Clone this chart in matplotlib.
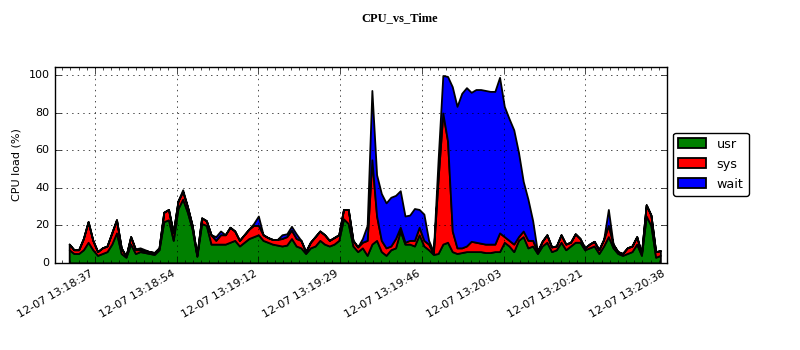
import matplotlib
matplotlib.use("Agg")
import matplotlib.pyplot as plt
import matplotlib.dates as mdates
from matplotlib.ticker import AutoMinorLocator
import pandas as pd

# sampled once per second
start = "2012-12-07 13:18:32"

usr = [7, 5, 5, 7, 11, 7, 4, 5, 6, 10,
       16, 5, 3, 10, 5, 6, 5.5, 5, 4.5, 7,
       22, 23, 12, 29, 34, 27, 18, 3.5, 21, 20,
       10, 10, 10, 10, 11, 12, 9, 11, 13, 14,
       15, 12, 11, 10, 9.5, 9, 9.5, 13, 9, 8,
       5, 8, 9, 12, 10, 9, 10, 12, 23.5, 21,
       9, 6, 8, 4, 10, 12, 6, 4, 7, 8,
       17, 10, 10, 9, 15, 9, 7, 4.5, 5, 10,
       11, 6, 5, 5.5, 6, 6, 6, 6, 5.5, 5.5,
       6, 6, 11, 9, 6, 12, 14, 8, 9, 5,
       9, 11, 6, 7, 11, 7, 9, 11, 11, 7,
       8, 9, 5, 9, 14, 8, 5, 4, 5, 6,
       10, 4, 25, 20, 3, 4]

sys_ = [3, 2, 2, 6, 11, 5, 2, 3, 3, 6,
        7, 3, 0.5, 4, 2, 1, 1, 1, 1, 1,
        5, 5.5, 4, 4, 4, 3, 2, 0.5, 3, 2.5,
        5, 2, 5, 5, 8, 5, 3, 4, 5, 6,
        5, 3, 2.5, 2.5, 3, 4, 4.5, 4.5, 4, 4,
        1, 3, 5, 5, 5, 3, 3.5, 3, 5, 7.5,
        3, 2.5, 3, 8, 45, 13, 6, 4, 2, 5,
        2, 1, 2, 3, 4, 3, 3, 0.5, 40, 70,
        54, 11, 3, 2.5, 3, 5.5, 5, 4.5, 4.5, 4.5,
        4, 10, 3, 3, 4, 2, 3, 4, 3, 1,
        2.5, 4, 2.5, 2, 4, 3, 2, 4.5, 2, 1,
        2, 2.5, 2, 3.5, 6, 2, 1, 1, 3, 3,
        4, 1, 6, 5.5, 3, 2.5]

wait = [0, 0, 0, 0, 0, 0, 0, 0, 0, 0,
        0, 0, 0, 0, 0.5, 1, 0.5, 0, 0, 0,
        0, 0, 0, 0, 1, 0, 0, 0, 0, 0,
        0, 2, 2, 0, 0, 0, 0, 0, 0, 1,
        5, 0, 0, 0, 0, 2, 1.5, 2, 2.5, 0,
        0, 0, 0, 0, 0, 0, 0, 0, 0, 0,
        0, 0, 2, 8, 37, 22, 25, 24, 26, 23,
        19.5, 14, 13.5, 17, 9.5, 14, 2, 1, 10, 20,
        34.5, 77, 75.5, 82.5, 84.5, 79.5, 81.5, 82, 82, 81.5,
        81.5, 83, 69.5, 65, 61, 45, 26.5, 22, 10.5, 0,
        0, 0, 0, 0, 0, 0, 0, 0, 0, 0,
        0, 0, 0, 0, 8.5, 0, 0, 0, 0, 0,
        0, 0, 0, 0, 0, 0]

labels = ["usr", "sys", "wait"]
colors = ["g", "r", "b"]

tick_times = ["2012-12-07 13:18:37.44", "2012-12-07 13:18:54.72",
              "2012-12-07 13:19:12.00", "2012-12-07 13:19:29.28",
              "2012-12-07 13:19:46.56", "2012-12-07 13:20:03.84",
              "2012-12-07 13:20:21.12", "2012-12-07 13:20:38.40"]

plt.style.use("classic")

times = pd.date_range(start, periods=len(usr), freq="s")
x = mdates.date2num(times.to_pydatetime())
ticks = mdates.date2num(pd.to_datetime(tick_times).to_pydatetime())

fig = plt.figure(figsize=(8, 3.5), dpi=100, facecolor="white")
ax = fig.add_axes([0.06875, 0.249, 0.765, 0.56])

ax.stackplot(x, usr, sys_, wait, colors=colors, labels=labels,
             edgecolor="k", linewidth=1.3)

ax.set_xlim(mdates.date2num(pd.Timestamp("2012-12-07 13:18:29")), ticks[-1])
ax.set_ylim(0, 104.6)
ax.set_yticks([0, 20, 40, 60, 80, 100])
ax.set_xticks(ticks)
ax.xaxis.set_major_formatter(mdates.DateFormatter("%m-%d %H:%M:%S"))
ax.xaxis.set_minor_locator(AutoMinorLocator(10))
ax.tick_params(axis="y", labelsize=8)
ax.tick_params(axis="x", labelsize=8)
for lbl in ax.get_xticklabels():
    lbl.set_rotation(30)
    lbl.set_ha("right")

ax.grid(True, color="k", linestyle=":", linewidth=0.5)
ax.set_ylabel("CPU load (%)", fontsize=8)

ax.legend(loc="upper left", bbox_to_anchor=(1.01, 0.665), borderaxespad=0,
          fontsize=9.2, fancybox=True, handlelength=2.2, handleheight=0.8,
          labelspacing=0.55)

fig.suptitle("CPU_vs_Time", y=0.949, va="center", fontsize=9,
             fontweight="bold", family="Liberation Serif")

fig.savefig("out.png", dpi=100, facecolor="white")
